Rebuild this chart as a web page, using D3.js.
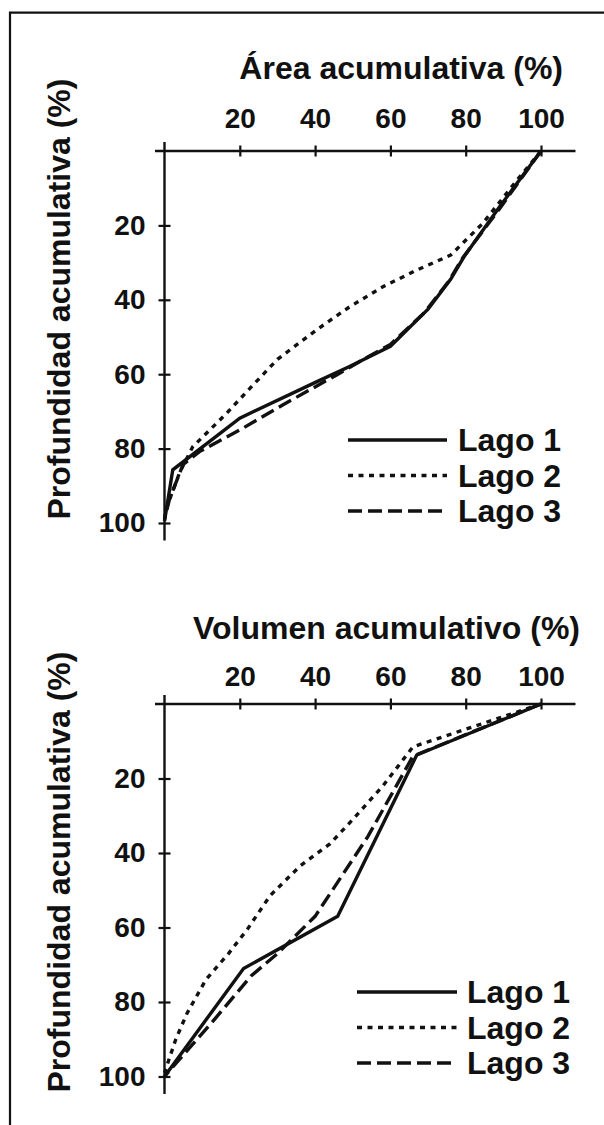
<!DOCTYPE html>
<html>
<head>
<meta charset="utf-8">
<script src="https://cdn.jsdelivr.net/npm/d3@7"></script>
<style>
  html, body { margin: 0; padding: 0; background: #fff; }
  svg { display: block; font-family: "Liberation Sans", Arial, sans-serif; font-weight: bold; }
</style>
</head>
<body>
<script>
// values: [x %, profundidad %]
const tickValues = [20, 40, 60, 80, 100];
const lakeNames = ['Lago 1', 'Lago 2', 'Lago 3'];

const areaLago1 = [[100, 0], [89, 15], [79.5, 28.5], [76, 34.5], [70, 42.5], [60, 52.5], [49, 58], [40.5, 62], [20, 71.8], [2.2, 85.7], [0, 99.5]];
const areaLago2 = [[100, 0], [93.5, 8], [84.5, 19.5], [76, 28], [67, 32], [58, 36.5], [49, 42], [40.5, 48], [30, 56], [22.5, 64], [16.5, 70.5], [7.5, 79.5], [4, 86.5], [0.5, 96], [0, 99]];
const areaLago3 = [[100, 0], [89, 15.5], [79, 29], [75.5, 35], [69, 43.5], [60, 52], [52, 56.5], [45.7, 60.2], [31.5, 68.2], [20, 75], [9.3, 80.8], [4.9, 84.3], [1.3, 93.7], [0, 99]];

const volLago1 = [[100, 0], [67, 13.7], [46, 57], [21, 71], [0, 100]];
const volLago2 = [[100, 0], [66, 11.5], [58, 22], [50, 31], [44, 37.5], [36, 43.5], [28, 51.5], [22, 60.5], [17, 67], [11, 74], [6, 83], [3, 90], [0, 99]];
const volLago3 = [[100, 0], [66, 14], [54, 35.6], [40, 57], [30, 67], [23, 73], [13, 85], [0, 100]];

const width = 604;
const height = 1125;

const dashes = ['none', '5,5.5', '14,6'];

const panels = [
  {
    title: 'Área acumulativa (%)',
    series: [areaLago1, areaLago2, areaLago3],
    x: [164.5, 541], y: [151, 523],
    titlePos: [563, 79], labelPad: 23, yLabelMid: 299,
    legend: { x1: 348, x2: 447, tx: 458, y: 440 },
  },
  {
    title: 'Volumen acumulativo (%)',
    series: [volLago1, volLago2, volLago3],
    x: [164.5, 541], y: [704, 1076.5],
    titlePos: [580, 639], labelPad: 18, yLabelMid: 872,
    legend: { x1: 357, x2: 457, tx: 467, y: 992 },
  },
];

const svg = d3.select('body').append('svg')
  .attr('width', width)
  .attr('height', height)
  .attr('viewBox', [0, 0, width, height]);

svg.append('rect')
  .attr('width', width)
  .attr('height', height)
  .attr('fill', '#fff');

// frame (only top and left edges are visible in the figure)
svg.append('path')
  .attr('d', `M10,${height}V12.7H${width}`)
  .attr('fill', 'none')
  .attr('stroke', '#111')
  .attr('stroke-width', 2.2);

const styleTicks = (a) => a.selectAll('.tick text')
  .attr('fill', '#111')
  .attr('font-size', 28)
  .attr('font-family', '"Liberation Sans", Arial, sans-serif')
  .attr('font-weight', 'bold');

const drawPanel = (p) => {
  const xScale = d3.scaleLinear().domain([0, 100]).range(p.x);
  const yScale = d3.scaleLinear().domain([0, 100]).range(p.y);
  const g = svg.append('g');

  /* X-AXIS (top) */
  g.append('g')
    .attr('transform', `translate(0, ${yScale(0)})`)
    .call(d3.axisTop(xScale)
      .tickValues(tickValues)
      .tickSize(0)
      .tickPadding(p.labelPad))
    .call((a) => a.select('.domain').remove())
    .call((a) => a.selectAll('.tick line')
      .attr('y1', -5.5)
      .attr('y2', 5.5)
      .attr('stroke', '#111')
      .attr('stroke-width', 2.2))
    .call(styleTicks);

  /* Y-AXIS (left) */
  g.append('g')
    .attr('transform', `translate(${xScale(0)}, 0)`)
    .call(d3.axisLeft(yScale)
      .tickValues(tickValues)
      .tickSize(0)
      .tickPadding(19))
    .call((a) => a.select('.domain').remove())
    .call((a) => a.selectAll('.tick line')
      .attr('x1', -6)
      .attr('x2', 6)
      .attr('stroke', '#111')
      .attr('stroke-width', 2.2))
    .call(styleTicks);

  // axis lines run a little past the origin
  g.append('line')
    .attr('x1', xScale(0) - 9.5).attr('x2', xScale(0) + 411)
    .attr('y1', yScale(0)).attr('y2', yScale(0))
    .attr('stroke', '#111').attr('stroke-width', 2.4);
  g.append('line')
    .attr('x1', xScale(0)).attr('x2', xScale(0))
    .attr('y1', yScale(0) - 9).attr('y2', yScale(100) + 17.5)
    .attr('stroke', '#111').attr('stroke-width', 2.4);

  /* TITLES */
  g.append('text')
    .attr('x', p.titlePos[0])
    .attr('y', p.titlePos[1])
    .attr('text-anchor', 'end')
    .attr('font-size', 32)
    .attr('fill', '#111')
    .text(p.title);

  g.append('text')
    .attr('transform', `translate(70, ${p.yLabelMid}) rotate(-90)`)
    .attr('text-anchor', 'middle')
    .attr('font-size', 32)
    .attr('fill', '#111')
    .text('Profundidad acumulativa (%)');

  /* LINES */
  const line = d3.line()
    .x((d) => xScale(d[0]))
    .y((d) => yScale(d[1]));

  g.append('g')
    .selectAll('path')
    .data(p.series)
    .join('path')
    .attr('d', line)
    .attr('fill', 'none')
    .attr('stroke', '#111')
    .attr('stroke-width', 3.4)
    .attr('stroke-dasharray', (d, i) => dashes[i]);

  /* LEGEND */
  const leg = g.append('g')
    .selectAll('g')
    .data(lakeNames)
    .join('g')
    .attr('transform', (d, i) => `translate(0, ${p.legend.y + i * 35.5})`);

  leg.append('line')
    .attr('x1', p.legend.x1)
    .attr('x2', p.legend.x2)
    .attr('stroke', '#111')
    .attr('stroke-width', 3.4)
    .attr('stroke-dasharray', (d, i) => dashes[i]);

  leg.append('text')
    .attr('x', p.legend.tx)
    .attr('y', 11)
    .attr('font-size', 32)
    .attr('fill', '#111')
    .text((d) => d);
};

panels.forEach(drawPanel);
</script>
</body>
</html>
